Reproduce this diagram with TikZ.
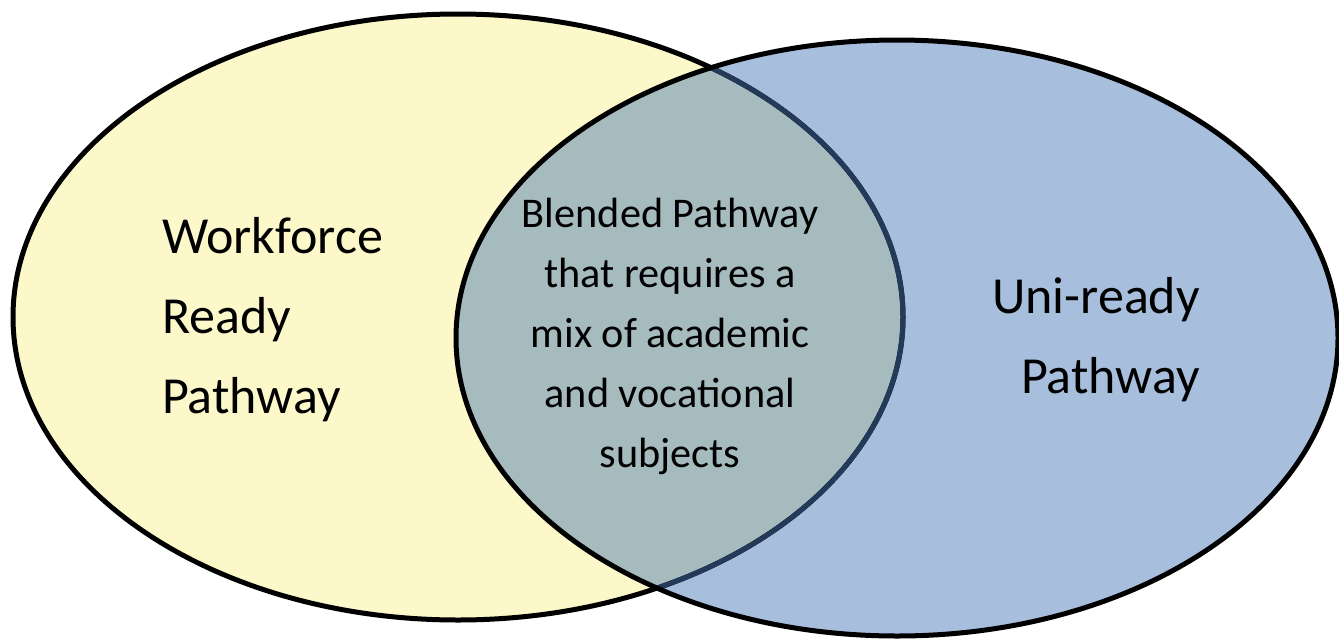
\documentclass[tikz,border=0pt]{standalone}
\usepackage{fontspec}
\setmainfont{Carlito}
\definecolor{wyellow}{RGB}{252,248,202}
\definecolor{ublue}{RGB}{167,191,221}
\definecolor{blend}{RGB}{166,187,190}
\definecolor{edgeblue}{RGB}{36,58,90}
\begin{document}
\begin{tikzpicture}[x=1pt,y=-1pt,
  outline/.style={line width=5pt},
  bigtext/.style={inner sep=0pt,font=\fontsize{52}{80}\selectfont},
  midtext/.style={inner sep=0pt,align=center,font=\fontsize{42.3}{60}\selectfont}]
\useasboundingbox (0,0) rectangle (1339,638);
\def\leftell{(458,317) ellipse [x radius=445, y radius=303]}
\def\rightell{(897,338) ellipse [x radius=441, y radius=298]}
\fill[wyellow] \leftell;
\fill[ublue] \rightell;
\begin{scope}
  \clip \rightell;
  \fill[blend] \leftell;
\end{scope}
\draw[outline,black] \leftell;
\begin{scope}
  \clip \rightell;
  \draw[outline,edgeblue] \leftell;
\end{scope}
\draw[outline,black] \rightell;
\node[bigtext,align=left,anchor=base west] (work) at (162,413) {Workforce\\Ready\\Pathway};
\node[midtext,anchor=base] (blend) at (670,467) {Blended Pathway\\that requires a\\mix of academic\\and vocational\\subjects};
\node[bigtext,align=right,anchor=base east] (uni) at (1200,393) {Uni-ready\\Pathway};
\end{tikzpicture}
\end{document}
